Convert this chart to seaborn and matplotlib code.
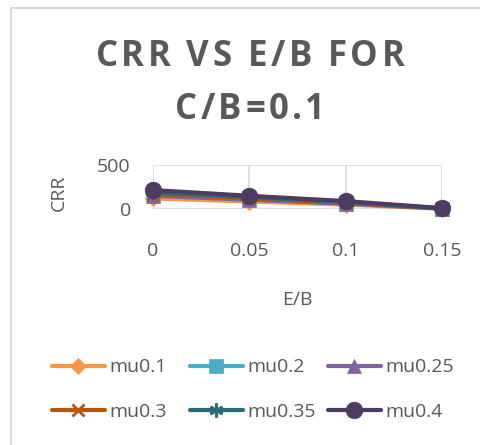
import matplotlib
matplotlib.use("Agg")
import matplotlib.pyplot as plt
import seaborn as sns
import pandas as pd
from matplotlib.patches import Rectangle

# Data
e_over_b = [0, 0.05, 0.1, 0.15]
series_names = ["mu0.1", "mu0.2", "mu0.25", "mu0.3", "mu0.35", "mu0.4"]
mu01 = [120, 85, 50, 3]
mu02 = [160, 110, 65, 5]
mu025 = [150, 105, 60, 5]
mu03 = [170, 120, 70, 6]
mu035 = [190, 135, 80, 8]
mu04 = [215, 150, 90, 10]
x_tick_labels = ["0", "0.05", "0.1", "0.15"]
y_ticks = [0, 500]
title_lines = ["CRR VS E/B FOR", "C/B=0.1"]

values = [mu01, mu02, mu025, mu03, mu035, mu04]
colors = ["#F79646", "#4BACC6", "#8064A2", "#B65708", "#276A7C", "#4D3B62"]
markers = ["D", "s", "^", "x", (6, 2, 0), "o"]
msizes = [8, 10, 10, 9, 10, 12]

rows = []
for name, vals in zip(series_names, values):
    for x, v in zip(e_over_b, vals):
        rows.append({"E/B": x, "CRR": v, "series": name})
df = pd.DataFrame(rows)

sns.set_theme(style="white")
plt.rcParams['font.family'] = ['Open Sans', 'DejaVu Sans']

W, H = 480, 445
fig = plt.figure(figsize=(W / 100, H / 100), dpi=100)

# chart-area border (cropped on right/bottom)
fig.patches.append(Rectangle((11 / W, -0.1), 1.2, 1 - 8 / H + 0.1,
                             transform=fig.transFigure, fill=False,
                             edgecolor="#d9d9d9", linewidth=1.5))

l, r, t, b = 153, 442, 165, 209
ax = fig.add_axes([l / W, 1 - b / H, (r - l) / W, (b - t) / H])

for name, c, m, ms in zip(series_names, colors, markers, msizes):
    sub = df[df["series"] == name]
    sns.lineplot(data=sub, x="E/B", y="CRR", ax=ax, color=c, marker=m,
                 markersize=ms, linewidth=3, label=name,
                 markeredgecolor=c, markeredgewidth=2 if m == "x" or isinstance(m, tuple) else 0.5)

ax.set_xlim(0, 0.15)
ax.set_ylim(0, 500)
ax.set_xticks(e_over_b)
ax.set_xticklabels(x_tick_labels)
ax.set_yticks(y_ticks)
ax.grid(True, color="#d9d9d9", linewidth=1.2)
for s in ax.spines.values():
    s.set_visible(False)
ax.tick_params(axis="both", length=0, labelsize=14, labelcolor="#595959")
ax.tick_params(axis="x", pad=24)
ax.tick_params(axis="y", pad=16)
for line in ax.lines:
    line.set_clip_on(False)

ax.set_xlabel("E/B", fontsize=14, color="#595959")
ax.set_ylabel("CRR", fontsize=14, color="#595959")
ax.xaxis.set_label_coords(0.5, (b - 300) / (b - t))
ax.xaxis.label.set_va("center")
ax.yaxis.set_label_coords((59 - l) / (r - l), (b - 193) / (b - t))
ax.yaxis.label.set_va("center")

ax.get_legend().remove()
handles, labels = ax.get_legend_handles_labels()
col_x = [52, 190, 328]
for ci, cx in enumerate(col_x):
    hs = [handles[ci], handles[ci + 3]]
    ls = [labels[ci], labels[ci + 3]]
    leg = fig.legend(hs, ls, ncol=1, loc="center left",
                     bbox_to_anchor=(cx / W, 1 - 389.5 / H),
                     frameon=False, fontsize=14, labelcolor="#595959",
                     handlelength=2.7, handletextpad=0.25, labelspacing=1.35,
                     borderpad=0, borderaxespad=0)

# Title with letter spacing
renderer = fig.canvas.get_renderer()
tkw = dict(fontsize=25, fontweight="bold", color="#595959")
spacing = 3.5
centers_y = [57, 110]

def char_width(ch):
    if ch == " ":
        t1 = fig.text(0, 0, "a a", **tkw)
        t2 = fig.text(0, 0, "aa", **tkw)
        w = t1.get_window_extent(renderer).width - t2.get_window_extent(renderer).width
        t1.remove(); t2.remove()
        return w
    tt = fig.text(0, 0, ch, **tkw)
    w = tt.get_window_extent(renderer).width
    tt.remove()
    return w

for line_txt, cy in zip(title_lines, centers_y):
    widths = [char_width(ch) for ch in line_txt]
    total = sum(widths) + spacing * (len(line_txt) - 1)
    x = 250 - total / 2
    for ch, w in zip(line_txt, widths):
        if ch != " ":
            fig.text(x / W, 1 - cy / H, ch, ha="left", va="center", **tkw)
        x += w + spacing

fig.savefig("out.png", dpi=100)
